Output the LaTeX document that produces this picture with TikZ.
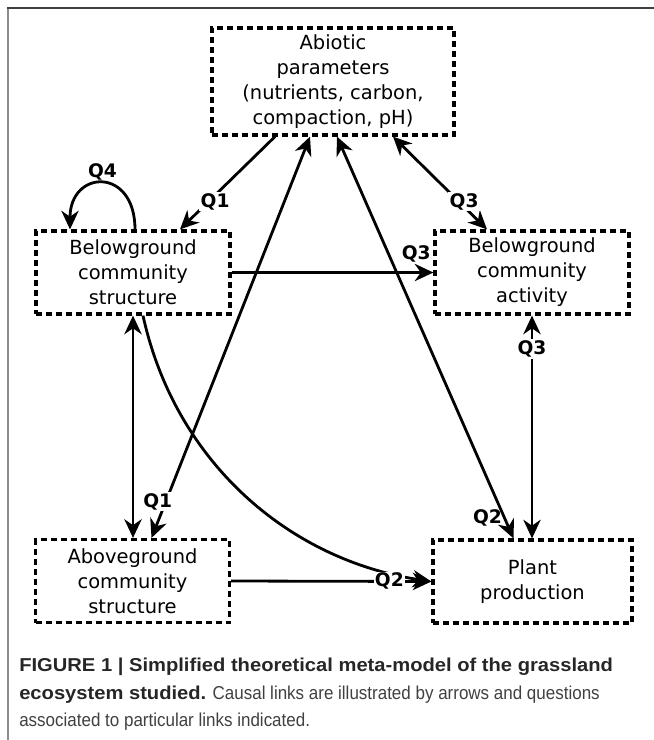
\documentclass[tikz,border=0pt]{standalone}
\usepackage{fontspec}
\setmainfont{DejaVu Sans}
\newfontfamily\capfont[FakeStretch=0.91]{Liberation Sans}
\newfontfamily\capboldfont[FakeStretch=1.08]{Liberation Sans Bold}
\usepackage{tikz}
\usetikzlibrary{arrows.meta,positioning}

\begin{document}
\begin{tikzpicture}[x=0.75pt,y=-0.75pt,
		>={Stealth[length=14pt,width=13pt,inset=4.5pt]},
		box/.style={draw,dash pattern=on 4.5pt off 3pt,line width=2.4pt,align=center,inner sep=0pt,
			minimum width=145.5pt,minimum height=62.25pt,font=\fontsize{14.6}{18.75}\selectfont},
		link/.style={line width=2.1pt},
		qlab/.style={font=\fontsize{14}{16}\selectfont\bfseries,inner sep=1pt,fill=white},
		capt/.style={font=\capfont\fontsize{14}{16}\selectfont,anchor=base west,inner sep=0pt}]
			\useasboundingbox (0,0) rectangle (654,740);
			% frame
			\draw[line width=1.5pt,black!45] (8,8)--(8,740);
			\draw[line width=1.5pt,black!75] (7.3,8)--(654,8);
			% boxes
			\node (abio) at (333,81.5) [box,minimum width=181.5pt,minimum height=80.25pt] {Abiotic\\parameters\\(nutrients, carbon,\\compaction, pH)};
			\node (bstr) at (133,272.5) [box] {Belowground\\community\\structure};
			\node (bact) at (532,272.5) [box] {Belowground\\community\\activity};
			\node (astr) at (132.5,581) [box] {Aboveground\\community\\structure};
			\node (plant) at (532.5,581.5) [box,minimum width=149.25pt] {Plant\\production};
			% links
			\draw[link,->] ([xshift=-43.5pt]abio.south)--node[qlab,pos=0.7,xshift=5pt] {Q1} ([xshift=35.25pt]bstr.north);
			\draw[link,<->] ([xshift=14.25pt]astr.north)--node[qlab,pos=0.09,xshift=-6pt] {Q1} ([xshift=-17.25pt]abio.south);
			\draw[link,<->] (bstr.south)--(bstr.south |- astr.north);
			\draw[link,->] ([xshift=1.5pt]bstr.north) .. controls +(0,-63) and +(0,-60) .. node[qlab,pos=0.5,above,fill=none] {Q4} ([xshift=-47.25pt]bstr.north);
			\draw[link,->] (bstr.east)--(bact.west) node[qlab,at end,anchor=south east,xshift=0pt,yshift=6pt,fill=none] {Q3};
			\draw[link,<->] ([xshift=45pt]abio.south)--node[qlab,pos=0.7,xshift=4pt] {Q3} ([xshift=-33.75pt]bact.north);
			\draw[link,<->] (bact.south)--node[qlab,pos=0.15] {Q3} (bact.south |- plant.north);
			\draw[link,<->] ([xshift=-14.25pt]plant.north)--node[qlab,pos=0.05,left,fill=none] {Q2} ([xshift=3pt]abio.south);
			\draw[link,->] ([xshift=7.5pt]bstr.south) .. controls +(32,146) and +(-143,-21.5) .. (plant.west);
			\draw[link,->] (astr.east)--node[qlab,pos=0.79] {Q2} (plant.west);
			% caption
			\node (cap1) at (19,671) [capt,text=black!85] {\capboldfont FIGURE 1 | Simplified theoretical meta-model of the grassland};
			\node (cap2) at (19,699) [capt,text=black!75] {{\capboldfont\color{black!85}ecosystem studied.} Causal links are illustrated by arrows and questions};
			\node (cap3) at (19,726) [capt,text=black!75] {associated to particular links indicated.};
		\end{tikzpicture}
\end{document}
